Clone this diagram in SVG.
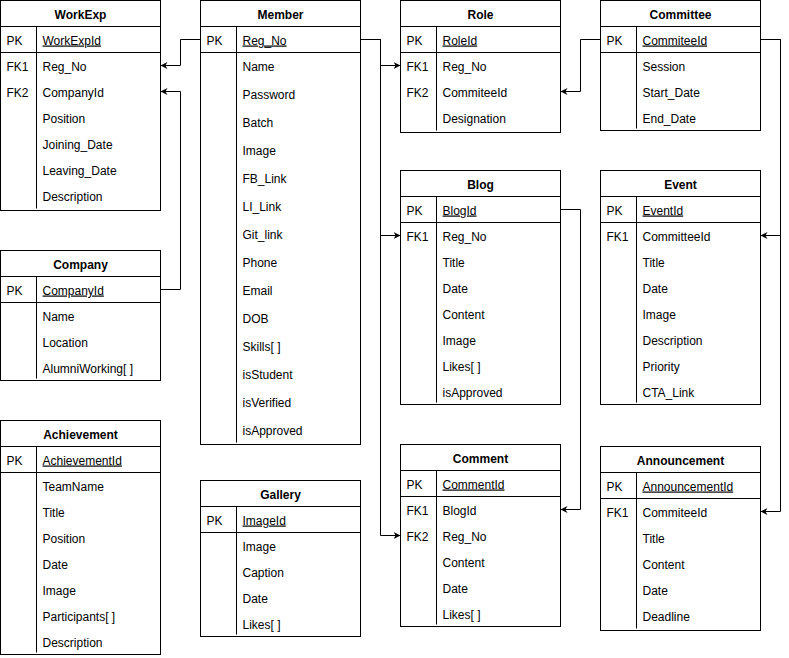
<svg xmlns="http://www.w3.org/2000/svg" width="789" height="658" viewBox="0 0 789 658">
<defs>
<style>
.box{fill:#fff;stroke:#000;stroke-width:1}
.ln{fill:none;stroke:#000;stroke-width:1}
.t{font-family:"Liberation Sans",Arial,sans-serif;font-size:12px;fill:#000}
.h{font-family:"Liberation Sans",Arial,sans-serif;font-size:12px;font-weight:bold;fill:#000;text-anchor:middle}
.u{text-decoration:underline}
.edge{fill:none;stroke:#000;stroke-width:1}
</style>
<marker id="arr" viewBox="0 0 10 10" refX="10" refY="5" markerWidth="7" markerHeight="7" orient="auto" markerUnits="userSpaceOnUse">
<path d="M0,0 L10,5 L0,10 L3,5 Z" fill="#000"/>
</marker>
</defs>
<rect width="789" height="658" fill="#fff"/>
<g transform="translate(0.5,0.5)">

<!-- WorkExp -->
<g id="workexp">
<rect class="box" x="0" y="0" width="160" height="210"/>
<line class="ln" x1="0" y1="26" x2="160" y2="26"/>
<line class="ln" x1="0" y1="52" x2="160" y2="52"/>
<line class="ln" x1="36" y1="26" x2="36" y2="208"/>
<text class="h" x="80" y="18">WorkExp</text>
<text class="t" x="6" y="44">PK</text><text class="t u" x="42" y="44">WorkExpId</text>
<text class="t" x="6" y="70">FK1</text><text class="t" x="42" y="70">Reg_No</text>
<text class="t" x="6" y="96">FK2</text><text class="t" x="42" y="96">CompanyId</text>
<text class="t" x="42" y="122">Position</text>
<text class="t" x="42" y="148">Joining_Date</text>
<text class="t" x="42" y="174">Leaving_Date</text>
<text class="t" x="42" y="200">Description</text>
</g>

<!-- Company -->
<g id="company">
<rect class="box" x="0" y="250" width="160" height="130"/>
<line class="ln" x1="0" y1="276" x2="160" y2="276"/>
<line class="ln" x1="0" y1="302" x2="160" y2="302"/>
<line class="ln" x1="36" y1="276" x2="36" y2="378"/>
<text class="h" x="80" y="268">Company</text>
<text class="t" x="6" y="294">PK</text><text class="t u" x="42" y="294">CompanyId</text>
<text class="t" x="42" y="320">Name</text>
<text class="t" x="42" y="346">Location</text>
<text class="t" x="42" y="372">AlumniWorking[ ]</text>
</g>

<!-- Achievement -->
<g id="achievement">
<rect class="box" x="0" y="420" width="160" height="234"/>
<line class="ln" x1="0" y1="446" x2="160" y2="446"/>
<line class="ln" x1="0" y1="472" x2="160" y2="472"/>
<line class="ln" x1="36" y1="446" x2="36" y2="652"/>
<text class="h" x="80" y="438">Achievement</text>
<text class="t" x="6" y="464">PK</text><text class="t u" x="42" y="464">AchievementId</text>
<text class="t" x="42" y="490">TeamName</text>
<text class="t" x="42" y="516">Title</text>
<text class="t" x="42" y="542">Position</text>
<text class="t" x="42" y="568">Date</text>
<text class="t" x="42" y="594">Image</text>
<text class="t" x="42" y="620">Participants[ ]</text>
<text class="t" x="42" y="646">Description</text>
</g>

<!-- Member -->
<g id="member">
<rect class="box" x="200" y="0" width="160" height="444"/>
<line class="ln" x1="200" y1="26" x2="360" y2="26"/>
<line class="ln" x1="200" y1="52" x2="360" y2="52"/>
<line class="ln" x1="236" y1="26" x2="236" y2="442"/>
<text class="h" x="280" y="18">Member</text>
<text class="t" x="206" y="44">PK</text><text class="t u" x="242" y="44">Reg_No</text>
<text class="t" x="242" y="70">Name</text>
<text class="t" x="242" y="98">Password</text>
<text class="t" x="242" y="126">Batch</text>
<text class="t" x="242" y="154">Image</text>
<text class="t" x="242" y="182">FB_Link</text>
<text class="t" x="242" y="210">LI_Link</text>
<text class="t" x="242" y="238">Git_link</text>
<text class="t" x="242" y="266">Phone</text>
<text class="t" x="242" y="294">Email</text>
<text class="t" x="242" y="322">DOB</text>
<text class="t" x="242" y="350">Skills[ ]</text>
<text class="t" x="242" y="378">isStudent</text>
<text class="t" x="242" y="406">isVerified</text>
<text class="t" x="242" y="434">isApproved</text>
</g>

<!-- Gallery -->
<g id="gallery">
<rect class="box" x="200" y="480" width="160" height="156"/>
<line class="ln" x1="200" y1="506" x2="360" y2="506"/>
<line class="ln" x1="200" y1="532" x2="360" y2="532"/>
<line class="ln" x1="236" y1="506" x2="236" y2="634"/>
<text class="h" x="280" y="498">Gallery</text>
<text class="t" x="206" y="524">PK</text><text class="t u" x="242" y="524">ImageId</text>
<text class="t" x="242" y="550">Image</text>
<text class="t" x="242" y="576">Caption</text>
<text class="t" x="242" y="602">Date</text>
<text class="t" x="242" y="628">Likes[ ]</text>
</g>

<!-- Role -->
<g id="role">
<rect class="box" x="400" y="0" width="160" height="132"/>
<line class="ln" x1="400" y1="26" x2="560" y2="26"/>
<line class="ln" x1="400" y1="52" x2="560" y2="52"/>
<line class="ln" x1="436" y1="26" x2="436" y2="130"/>
<text class="h" x="480" y="18">Role</text>
<text class="t" x="406" y="44">PK</text><text class="t u" x="442" y="44">RoleId</text>
<text class="t" x="406" y="70">FK1</text><text class="t" x="442" y="70">Reg_No</text>
<text class="t" x="406" y="96">FK2</text><text class="t" x="442" y="96">CommiteeId</text>
<text class="t" x="442" y="122">Designation</text>
</g>

<!-- Blog -->
<g id="blog">
<rect class="box" x="400" y="170" width="160" height="234"/>
<line class="ln" x1="400" y1="196" x2="560" y2="196"/>
<line class="ln" x1="400" y1="222" x2="560" y2="222"/>
<line class="ln" x1="436" y1="196" x2="436" y2="402"/>
<text class="h" x="480" y="188">Blog</text>
<text class="t" x="406" y="214">PK</text><text class="t u" x="442" y="214">BlogId</text>
<text class="t" x="406" y="240">FK1</text><text class="t" x="442" y="240">Reg_No</text>
<text class="t" x="442" y="266">Title</text>
<text class="t" x="442" y="292">Date</text>
<text class="t" x="442" y="318">Content</text>
<text class="t" x="442" y="344">Image</text>
<text class="t" x="442" y="370">Likes[ ]</text>
<text class="t" x="442" y="396">isApproved</text>
</g>

<!-- Comment -->
<g id="comment">
<rect class="box" x="400" y="444" width="160" height="182"/>
<line class="ln" x1="400" y1="470" x2="560" y2="470"/>
<line class="ln" x1="400" y1="496" x2="560" y2="496"/>
<line class="ln" x1="436" y1="470" x2="436" y2="624"/>
<text class="h" x="480" y="462">Comment</text>
<text class="t" x="406" y="488">PK</text><text class="t u" x="442" y="488">CommentId</text>
<text class="t" x="406" y="514">FK1</text><text class="t" x="442" y="514">BlogId</text>
<text class="t" x="406" y="540">FK2</text><text class="t" x="442" y="540">Reg_No</text>
<text class="t" x="442" y="566">Content</text>
<text class="t" x="442" y="592">Date</text>
<text class="t" x="442" y="618">Likes[ ]</text>
</g>

<!-- Committee -->
<g id="committee">
<rect class="box" x="600" y="0" width="160" height="130"/>
<line class="ln" x1="600" y1="26" x2="760" y2="26"/>
<line class="ln" x1="600" y1="52" x2="760" y2="52"/>
<line class="ln" x1="636" y1="26" x2="636" y2="128"/>
<text class="h" x="680" y="18">Committee</text>
<text class="t" x="606" y="44">PK</text><text class="t u" x="642" y="44">CommiteeId</text>
<text class="t" x="642" y="70">Session</text>
<text class="t" x="642" y="96">Start_Date</text>
<text class="t" x="642" y="122">End_Date</text>
</g>

<!-- Event -->
<g id="event">
<rect class="box" x="600" y="170" width="160" height="234"/>
<line class="ln" x1="600" y1="196" x2="760" y2="196"/>
<line class="ln" x1="600" y1="222" x2="760" y2="222"/>
<line class="ln" x1="636" y1="196" x2="636" y2="402"/>
<text class="h" x="680" y="188">Event</text>
<text class="t" x="606" y="214">PK</text><text class="t u" x="642" y="214">EventId</text>
<text class="t" x="606" y="240">FK1</text><text class="t" x="642" y="240">CommitteeId</text>
<text class="t" x="642" y="266">Title</text>
<text class="t" x="642" y="292">Date</text>
<text class="t" x="642" y="318">Image</text>
<text class="t" x="642" y="344">Description</text>
<text class="t" x="642" y="370">Priority</text>
<text class="t" x="642" y="396">CTA_Link</text>
</g>

<!-- Announcement -->
<g id="announcement">
<rect class="box" x="600" y="446" width="160" height="184"/>
<line class="ln" x1="600" y1="472" x2="760" y2="472"/>
<line class="ln" x1="600" y1="498" x2="760" y2="498"/>
<line class="ln" x1="636" y1="472" x2="636" y2="628"/>
<text class="h" x="680" y="464">Announcement</text>
<text class="t" x="606" y="490">PK</text><text class="t u" x="642" y="490">AnnouncementId</text>
<text class="t" x="606" y="516">FK1</text><text class="t" x="642" y="516">CommiteeId</text>
<text class="t" x="642" y="542">Title</text>
<text class="t" x="642" y="568">Content</text>
<text class="t" x="642" y="594">Date</text>
<text class="t" x="642" y="620">Deadline</text>
</g>

<!-- foreign key links -->
<g id="connectors">
<path class="edge" d="M360,39 H380 V65 H400" marker-end="url(#arr)"/>
<path class="edge" d="M360,39 H380 V235 H400" marker-end="url(#arr)"/>
<path class="edge" d="M360,39 H380 V535 H400" marker-end="url(#arr)"/>
<path class="edge" d="M200,39 H180 V65 H160" marker-end="url(#arr)"/>
<path class="edge" d="M160,289 H180 V91 H160" marker-end="url(#arr)"/>
<path class="edge" d="M600,39 H580 V91 H560" marker-end="url(#arr)"/>
<path class="edge" d="M760,39 H780 V235 H760" marker-end="url(#arr)"/>
<path class="edge" d="M760,39 H780 V511 H760" marker-end="url(#arr)"/>
<path class="edge" d="M560,209 H580 V509 H560" marker-end="url(#arr)"/>
</g>
</g>
</svg>
